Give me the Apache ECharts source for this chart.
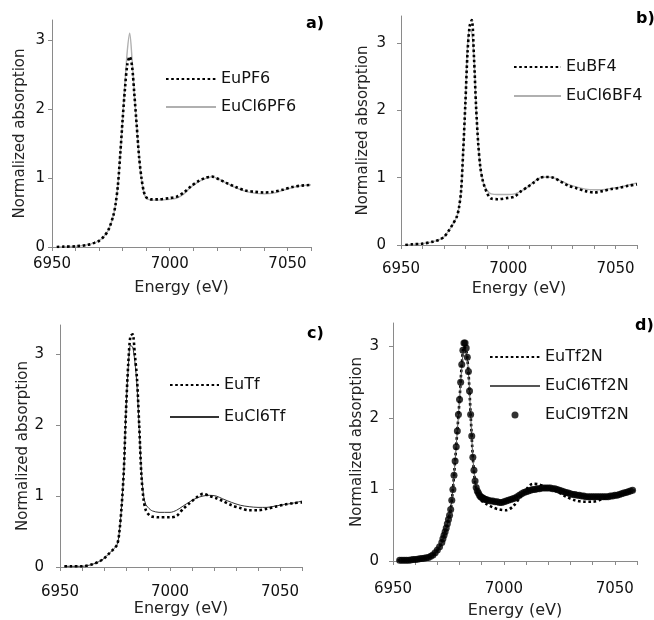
<!DOCTYPE html>
<html>
<head>
<meta charset="utf-8">
<script src="https://cdn.jsdelivr.net/npm/echarts@6/dist/echarts.min.js"></script>
<style>html,body{margin:0;padding:0;background:#fff}#c{width:654px;height:620px}</style>
</head>
<body>
<div id="c"></div>
<script>
// ---------- data ----------
const gridE = [6952,6955,6960,6965,6968,6970,6972,6974,6976,6977,6978,6979,6980,6981,6982,6983,6984,6985,6986,6987,6988,6989,6990,6991,6992,6995,7000,7003,7006,7009,7012,7015,7018,7021,7024,7028,7032,7036,7040,7044,7048,7052,7056,7060];

// panel a
const EuPF6 =    [0.00,0.005,0.01,0.03,0.06,0.09,0.15,0.25,0.45,0.62,0.90,1.35,1.85,2.30,2.65,2.76,2.62,2.20,1.75,1.30,1.00,0.80,0.72,0.70,0.69,0.69,0.71,0.73,0.79,0.88,0.95,1.00,1.02,0.98,0.93,0.87,0.82,0.80,0.79,0.80,0.83,0.87,0.89,0.90];
const EuCl6PF6 = [0.00,0.005,0.01,0.03,0.06,0.09,0.15,0.25,0.45,0.62,0.90,1.35,1.85,2.38,2.85,3.10,2.72,2.20,1.75,1.30,0.98,0.79,0.71,0.69,0.68,0.68,0.69,0.71,0.77,0.87,0.94,0.99,1.02,0.98,0.93,0.86,0.81,0.78,0.77,0.78,0.82,0.86,0.89,0.90];

// panel b
const EuBF4 =    [0.00,0.01,0.02,0.05,0.08,0.12,0.20,0.30,0.42,0.55,0.80,1.40,2.10,2.85,3.25,3.34,2.80,2.05,1.50,1.15,0.97,0.86,0.78,0.72,0.69,0.68,0.70,0.72,0.80,0.86,0.93,1.00,1.01,1.00,0.95,0.88,0.84,0.80,0.78,0.80,0.83,0.85,0.88,0.90];
const EuCl6BF4 = [0.00,0.01,0.02,0.05,0.08,0.12,0.20,0.30,0.42,0.55,0.80,1.40,2.10,2.95,3.20,3.15,2.80,2.05,1.50,1.15,0.97,0.87,0.82,0.78,0.76,0.75,0.75,0.76,0.80,0.86,0.94,1.00,1.01,1.00,0.96,0.90,0.86,0.83,0.82,0.82,0.84,0.86,0.89,0.92];

// panel c
const EuTf =     [0.01,0.01,0.01,0.04,0.08,0.12,0.18,0.24,0.32,0.50,0.85,1.35,2.20,2.85,3.25,3.28,3.00,2.65,2.00,1.30,0.95,0.80,0.75,0.72,0.71,0.70,0.70,0.72,0.82,0.90,0.98,1.03,1.00,0.97,0.93,0.87,0.83,0.80,0.80,0.82,0.85,0.88,0.90,0.91];
const EuCl6Tf =  [0.01,0.01,0.01,0.04,0.08,0.12,0.18,0.24,0.32,0.50,0.85,1.35,2.20,2.80,3.12,3.10,2.90,2.55,1.95,1.35,1.00,0.88,0.84,0.81,0.79,0.77,0.77,0.80,0.86,0.92,0.97,1.00,1.01,1.00,0.96,0.91,0.87,0.85,0.84,0.84,0.86,0.88,0.90,0.93];

// panel d
const gridD = [6952,6955,6960,6965,6968,6970,6972,6974,6975,6976,6977,6978,6979,6980,6981,6982,6983,6984,6985,6986,6987,6988,6989,6990,6992,6995,6998,7001,7004,7007,7010,7013,7016,7020,7024,7028,7032,7036,7040,7044,7048,7052,7056,7059];
const EuTf2N =    [0.01,0.01,0.02,0.045,0.08,0.15,0.26,0.46,0.58,0.72,1.00,1.40,1.82,2.26,2.75,3.00,2.95,2.65,2.05,1.45,1.10,0.95,0.88,0.84,0.80,0.75,0.72,0.71,0.76,0.88,1.00,1.08,1.07,1.02,0.97,0.90,0.85,0.83,0.83,0.86,0.91,0.93,0.96,0.99];
const EuCl6Tf2N = [0.01,0.01,0.02,0.045,0.08,0.15,0.26,0.46,0.58,0.72,1.00,1.40,1.82,2.26,2.70,2.95,2.93,2.65,2.05,1.45,1.12,0.98,0.92,0.89,0.86,0.84,0.82,0.84,0.87,0.92,0.97,1.00,1.01,1.02,1.01,0.97,0.93,0.91,0.90,0.90,0.91,0.93,0.96,0.99];

const E9 = [6953,6954,6955,6956,6957,6958,6959,6960,6961,6962,6963,6964,6965,6966,6967,6968,6969,6970,6971,
  6972,6972.5,6973,6973.5,6974,6974.5,6975,6975.5,6976,6976.5,6977,6977.5,6978,6978.5,6979,6979.5,6980,6980.5,6981,6981.5,6982,6982.5,6983,6983.5,6984,6984.5,6985,6985.5,6986,6986.5,6987,6987.5,6988,6988.5,6989,6989.5,6990,6990.5,6991,6991.5,
  6992,6993,6994,6995,6996,6997,6998,6999,7000,7001,7002,7003,7004,7005,7006,7007,7008,7009,7010,7011,7012,7013,7014,7015,7016,7017,7018,7019,7020,7021,7022,7023,7024,7025,7026,7027,7028,7029,7030,7031,7032,7033,7034,7035,7036,7037,7038,7039,7040,7041,7042,7043,7044,7045,7046,7047,7048,7049,7050,7051,7052,7053,7054,7055,7056,7057,7058];
const EuCl9Tf2N = [0.01,0.01,0.01,0.01,0.01,0.015,0.02,0.02,0.025,0.03,0.035,0.04,0.045,0.05,0.065,0.085,0.115,0.155,0.20,
  0.26,0.31,0.36,0.41,0.46,0.52,0.58,0.64,0.72,0.85,1.00,1.20,1.40,1.60,1.82,2.05,2.26,2.50,2.75,2.95,3.05,3.05,2.98,2.85,2.65,2.38,2.05,1.75,1.45,1.27,1.12,1.03,0.98,0.95,0.92,0.90,0.89,0.88,0.87,0.86,
  0.86,0.85,0.84,0.84,0.83,0.83,0.82,0.82,0.83,0.84,0.85,0.86,0.87,0.88,0.90,0.92,0.94,0.96,0.97,0.98,0.99,1.00,1.00,1.01,1.01,1.02,1.02,1.02,1.02,1.02,1.01,1.01,1.00,0.99,0.98,0.97,0.96,0.95,0.94,0.93,0.93,0.92,0.92,0.91,0.91,0.90,0.90,0.90,0.90,0.90,0.90,0.90,0.90,0.90,0.90,0.90,0.91,0.91,0.92,0.92,0.93,0.94,0.95,0.96,0.97,0.98,0.99];

const xTicks = [6950,6960,6970,6980,6990,7000,7010,7020,7030,7040,7050,7060];
const xLabels = [6950,7000,7050];
const yTicks = [0,1,2,3];
const xTitle = 'Energy (eV)';
const yTitle = 'Normalized absorption';

// ---------- chart ----------
const FONT = '"DejaVu Sans", Verdana, sans-serif';
const pairs = (xs, ys) => xs.map((x, i) => [x, ys[i]]);

const grids = [
  {left: 52, top: 20, width: 259, height: 227},
  {left: 401, top: 16, width: 236, height: 229},
  {left: 60, top: 325, width: 242, height: 242},
  {left: 393, top: 323, width: 244, height: 240}
];
const yMax = [3.29, 3.4, 3.41, 3.33];
const xLabelMargin = [10, 17, 18, 21];
const xNameGap = [33, 36, 30, 42];
const yLabelMargin = [7, 15, 16, 14];
const yNameGap = [24, 30, 27, 28];

const axisCol = '#8a8a8a';
const xAxes = grids.map((g, i) => ({
  type: 'value', gridIndex: i, min: 6950, max: 7060, interval: 10,
  name: xTitle, nameLocation: 'middle', nameGap: xNameGap[i],
  nameTextStyle: {fontFamily: FONT, fontSize: 16, color: '#222'},
  axisLine: {lineStyle: {color: axisCol, width: 1}},
  axisTick: {show: true, length: 4, lineStyle: {color: axisCol}, customValues: xTicks},
  axisLabel: {fontFamily: FONT, fontSize: 15, color: '#111', margin: xLabelMargin[i], customValues: xLabels,
    formatter: v => (xLabels.indexOf(v) >= 0 ? String(v) : '')},
  splitLine: {show: false}
}));
const yAxes = grids.map((g, i) => ({
  type: 'value', gridIndex: i, min: 0, max: yMax[i], interval: 1,
  name: yTitle, nameLocation: 'middle', nameGap: yNameGap[i], nameRotate: 90,
  nameTextStyle: {fontFamily: FONT, fontSize: 15, color: '#222'},
  axisLine: {show: true, lineStyle: {color: axisCol, width: 1}},
  axisTick: {show: true, length: 4, lineStyle: {color: axisCol}, customValues: yTicks},
  axisLabel: {fontFamily: FONT, fontSize: 15, color: '#111', margin: yLabelMargin[i], customValues: yTicks,
    formatter: v => (yTicks.indexOf(v) >= 0 ? String(v) : '')},
  splitLine: {show: false}
}));

const dotted = {color: '#000', width: 2.6, type: [2.6, 2.6]};
const lineSeries = (name, xs, ys, idx, style, z) => ({
  name, type: 'line', xAxisIndex: idx, yAxisIndex: idx, data: pairs(xs, ys),
  showSymbol: false, symbol: 'none', smooth: 0.3, lineStyle: style, itemStyle: {color: style.color}, z: z || 2
});

const series = [
  lineSeries('EuCl6PF6', gridE, EuCl6PF6, 0, {color: '#b0b0b0', width: 1.4, type: 'solid'}),
  lineSeries('EuPF6', gridE, EuPF6, 0, dotted, 3),
  lineSeries('EuCl6BF4', gridE, EuCl6BF4, 1, {color: '#b0b0b0', width: 1.4, type: 'solid'}),
  lineSeries('EuBF4', gridE, EuBF4, 1, dotted, 3),
  lineSeries('EuCl6Tf', gridE, EuCl6Tf, 2, {color: '#333', width: 1, type: 'solid'}),
  lineSeries('EuTf', gridE, EuTf, 2, dotted, 3),
  lineSeries('EuTf2N', gridD, EuTf2N, 3, dotted, 2),
  lineSeries('EuCl6Tf2N', gridD, EuCl6Tf2N, 3, {color: '#555', width: 1, type: 'solid'}, 3),
  {name: 'EuCl9Tf2N', type: 'scatter', xAxisIndex: 3, yAxisIndex: 3, data: pairs(E9, EuCl9Tf2N),
   symbol: 'circle', symbolSize: 7, itemStyle: {color: '#000'}, z: 4}
];

const legTxt = {fontFamily: FONT, fontSize: 16, color: '#111'};
const noSym = n => ({name: n, itemStyle: {opacity: 0}});
const legend = [
  {data: [noSym('EuPF6'), noSym('EuCl6PF6')], left: 160, top: 66, orient: 'vertical', itemWidth: 50, itemHeight: 7, itemGap: 12, textStyle: legTxt, selectedMode: false},
  {data: [noSym('EuBF4'), noSym('EuCl6BF4')], left: 508, top: 54, orient: 'vertical', itemWidth: 47, itemHeight: 7, itemGap: 13, textStyle: legTxt, selectedMode: false},
  {data: [noSym('EuTf'), noSym('EuCl6Tf')], left: 164, top: 372, orient: 'vertical', itemWidth: 49, itemHeight: 7, itemGap: 16, textStyle: legTxt, selectedMode: false},
  {data: [noSym('EuTf2N'), noSym('EuCl6Tf2N'), 'EuCl9Tf2N'], left: 484, top: 344, orient: 'vertical', itemWidth: 50, itemHeight: 7, itemGap: 13, textStyle: legTxt, selectedMode: false}
];

const lab = (t, x, y) => ({type: 'text', left: x, top: y, style: {text: t, fontFamily: FONT, fontSize: 16, fontWeight: 'bold', fill: '#000'}});

const chart = echarts.init(document.getElementById('c'), null, {renderer: 'canvas'});
chart.setOption({
  animation: false,
  backgroundColor: '#fff',
  grid: grids,
  xAxis: xAxes,
  yAxis: yAxes,
  legend,
  series,
  graphic: [lab('a)', 306, 16), lab('b)', 636, 11), lab('c)', 307, 326), lab('d)', 635, 318)]
});
</script>
</body>
</html>
